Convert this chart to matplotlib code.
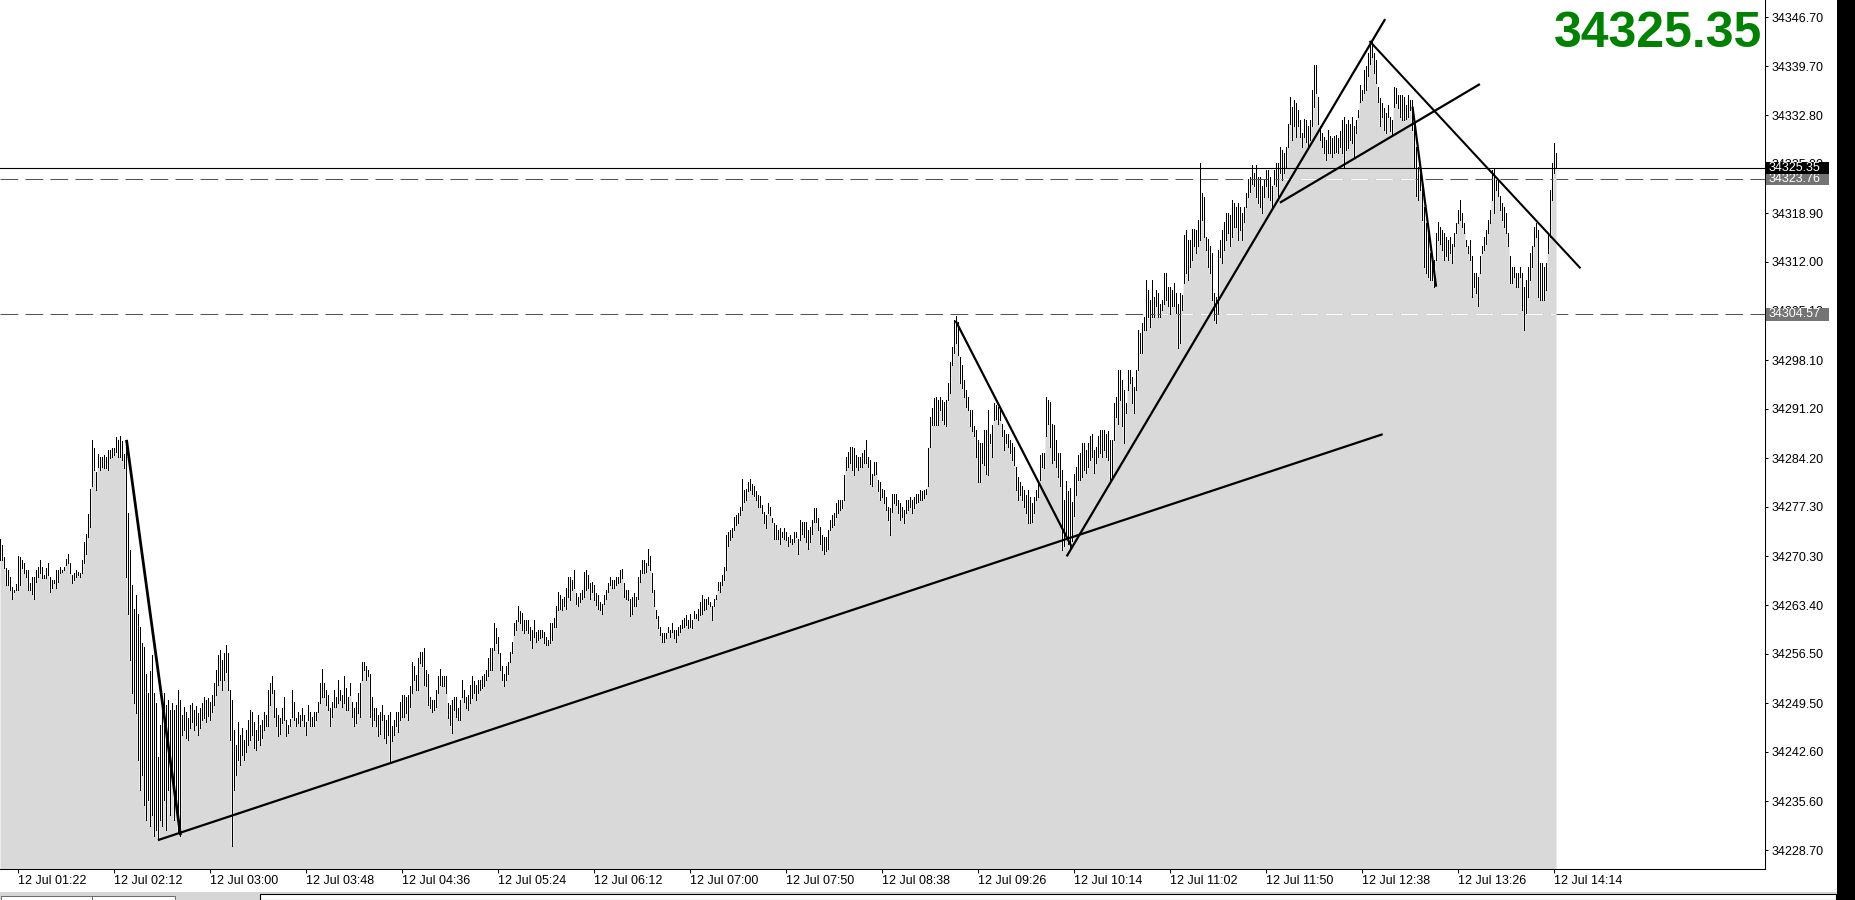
import numpy as np
import matplotlib
matplotlib.use("Agg")
import matplotlib.pyplot as plt
import matplotlib.transforms as mtransforms
from matplotlib.patches import Rectangle

plt.rcParams['font.family'] = ['Liberation Sans', 'DejaVu Sans']

# ---------------- data (one-minute bars, visible high / fill level) ----------------
high_a = [34272.8, 34271.9, 34270.2, 34268.6, 34268.4, 34267.4, 34266.0, 34265.6, 34266.4, 34270.3,
          34270.2, 34269.8, 34269.3, 34268.4, 34268.4, 34266.5, 34267.4, 34267.4, 34268.4, 34268.8,
          34269.8, 34268.8, 34267.6, 34268.6, 34269.3, 34267.4, 34266.9, 34266.9, 34268.4, 34268.4,
          34268.8, 34268.4, 34268.8, 34269.9, 34270.7, 34269.3, 34267.6, 34267.9, 34268.4, 34268.1,
          34267.9, 34269.8, 34272.4, 34273.5, 34276.3, 34279.9, 34286.8, 34285.7, 34282.3, 34284.8,
          34284.4, 34284.4, 34284.6, 34284.4, 34285.4, 34285.4, 34285.7, 34285.7, 34287.2, 34286.8,
          34287.3, 34286.7, 34284.8]
low_a = [34269.8, 34269.8, 34268.6, 34266.2, 34266.2, 34265.5, 34264.3, 34265.3, 34265.5, 34265.6,
         34266.2, 34268.6, 34267.9, 34267.4, 34265.5, 34265.5, 34265.0, 34264.3, 34266.7, 34267.4,
         34267.9, 34267.2, 34267.2, 34267.2, 34267.6, 34265.3, 34265.8, 34266.5, 34265.8, 34266.7,
         34267.9, 34268.1, 34268.4, 34269.1, 34269.3, 34267.9, 34266.5, 34266.9, 34267.4, 34267.6,
         34267.4, 34267.9, 34269.3, 34270.7, 34273.1, 34274.5, 34280.2, 34282.5, 34279.7, 34283.0,
         34282.5, 34283.0, 34282.8, 34282.8, 34282.5, 34284.3, 34284.4, 34284.6, 34285.1, 34284.4,
         34284.4, 34283.9, 34282.8]

high_b = [34286.8, 34276.4, 34271.2, 34266.2, 34262.9, 34264.8, 34262.2, 34260.3, 34258.0, 34257.4,
          34253.7, 34250.9, 34254.0, 34256.3, 34250.9, 34249.5, 34241.9, 34246.4, 34250.0, 34250.9,
          34249.2, 34250.0, 34248.5, 34249.5, 34248.5, 34249.2, 34251.4, 34250.0]
low_b = [34267.4, 34262.2, 34255.6, 34250.9, 34249.5, 34248.1, 34241.4, 34237.2, 34239.3, 34235.1,
         34233.0, 34235.8, 34232.1, 34233.7, 34230.7, 34231.5, 34230.1, 34233.0, 34232.1, 34235.8,
         34231.5, 34237.2, 34233.7, 34238.6, 34233.0, 34235.8, 34231.1, 34230.7]

high_c = [34247.8, 34249.0, 34248.3, 34247.4, 34249.2, 34249.5, 34248.5, 34249.1, 34248.1, 34248.8,
          34249.5, 34250.4, 34250.0, 34250.2, 34249.7, 34250.7, 34252.4, 34254.2, 34256.3, 34257.0,
          34255.6, 34256.6, 34257.7, 34256.6, 34251.4, 34250.0, 34245.7, 34243.6, 34246.8, 34245.0,
          34246.0, 34244.3, 34245.7, 34247.1, 34248.5, 34248.3, 34246.8, 34245.7, 34247.8, 34246.4,
          34247.1, 34248.3]
low_c = [34245.0, 34245.7, 34244.6, 34244.3, 34246.0, 34246.8, 34245.7, 34246.4, 34245.0, 34246.0,
         34247.1, 34247.4, 34246.8, 34247.7, 34247.1, 34248.3, 34249.2, 34250.7, 34252.1, 34252.8,
         34251.4, 34252.8, 34253.9, 34251.4, 34244.3, 34229.3, 34237.2, 34239.3, 34241.4, 34240.7,
         34242.2, 34241.4, 34242.6, 34243.6, 34244.3, 34245.0, 34243.2, 34242.9, 34244.3, 34243.6,
         34244.6, 34245.7]

high_d = [34247.8, 34251.4, 34252.3, 34253.4, 34251.4, 34248.8, 34247.8, 34247.4, 34248.8, 34250.4,
          34247.1, 34246.4, 34247.2, 34251.4, 34249.7, 34247.4, 34248.3, 34247.8, 34248.8, 34247.8,
          34246.9, 34249.3, 34248.3, 34247.6, 34248.3, 34248.3, 34249.7, 34252.3, 34254.3, 34252.3,
          34251.4, 34250.7, 34248.8, 34249.7, 34251.4, 34250.4, 34252.8, 34251.4, 34250.7, 34253.3,
          34251.6, 34250.4, 34252.3, 34249.7, 34248.8, 34249.7, 34250.9, 34252.3, 34255.4, 34255.4,
          34254.7, 34254.2, 34253.7, 34250.4, 34248.8, 34248.8, 34247.8, 34248.3, 34249.3, 34247.8,
          34247.1, 34247.8, 34248.3, 34246.2, 34247.1, 34248.3, 34248.3, 34249.7, 34250.7, 34250.7,
          34250.4, 34250.7, 34251.9, 34255.4, 34254.7, 34253.5, 34255.9, 34256.8, 34256.8, 34257.3,
          34254.2, 34253.7, 34250.4, 34250.0, 34250.0, 34251.4, 34253.3, 34254.3, 34253.4, 34253.3,
          34253.3, 34249.5, 34249.3, 34250.0, 34250.4, 34250.4, 34248.8, 34250.0, 34252.8, 34251.4,
          34250.4, 34250.7, 34252.1, 34253.3, 34252.6, 34252.1, 34252.8, 34252.8, 34253.3, 34253.7,
          34254.2, 34255.9, 34257.3, 34257.3, 34260.8, 34260.1, 34258.9, 34256.6, 34254.7, 34253.7,
          34254.7, 34255.4, 34256.8, 34258.2, 34260.8, 34261.3, 34263.2, 34262.5, 34262.3, 34261.3,
          34261.3, 34261.3, 34260.3, 34259.9, 34261.3]
low_d = [34246.2, 34246.2, 34249.3, 34250.9, 34247.6, 34246.2, 34244.8, 34245.2, 34246.7, 34247.1,
         34244.9, 34245.3, 34246.2, 34247.6, 34247.1, 34246.2, 34246.7, 34246.2, 34247.1, 34246.2,
         34245.0, 34247.1, 34246.2, 34246.2, 34246.2, 34247.1, 34248.3, 34249.5, 34250.4, 34250.4,
         34249.3, 34248.6, 34246.2, 34247.6, 34249.0, 34249.0, 34249.5, 34250.0, 34249.0, 34249.5,
         34248.6, 34248.6, 34250.7, 34247.6, 34246.2, 34246.7, 34248.1, 34247.6, 34252.8, 34254.2,
         34252.8, 34253.3, 34247.6, 34246.2, 34247.1, 34246.2, 34244.9, 34245.2, 34247.1, 34244.6,
         34243.8, 34245.0, 34241.0, 34244.2, 34245.0, 34246.2, 34245.4, 34247.1, 34247.6, 34247.6,
         34248.1, 34247.1, 34249.0, 34250.9, 34252.8, 34251.4, 34251.4, 34255.2, 34254.7, 34252.1,
         34251.9, 34249.3, 34248.8, 34248.3, 34248.6, 34249.0, 34250.9, 34252.1, 34251.9, 34251.9,
         34250.9, 34247.4, 34246.4, 34245.3, 34248.6, 34247.6, 34247.1, 34247.1, 34250.4, 34249.7,
         34248.8, 34248.6, 34249.5, 34250.2, 34250.9, 34250.0, 34250.9, 34251.4, 34251.6, 34251.9,
         34252.8, 34253.3, 34254.2, 34254.2, 34257.1, 34258.0, 34256.6, 34254.2, 34252.8, 34251.9,
         34252.8, 34253.7, 34255.4, 34256.6, 34259.2, 34259.9, 34261.1, 34260.8, 34259.9, 34259.4,
         34259.9, 34259.4, 34258.5, 34257.3, 34258.9]

high_e = [34259.6, 34259.9, 34259.9, 34259.9, 34259.6, 34258.9, 34258.4, 34260.8, 34260.8, 34261.5,
          34263.2, 34265.3, 34264.8, 34264.3, 34264.6, 34265.8, 34267.4, 34267.4, 34266.9, 34268.4,
          34265.1, 34264.6, 34265.1, 34265.5, 34268.1, 34268.4, 34267.6, 34266.5, 34266.7, 34266.2,
          34265.1, 34264.8, 34263.9, 34263.6, 34264.8, 34265.5, 34266.5, 34267.4, 34266.9, 34266.9,
          34267.4, 34267.4, 34268.4, 34268.5, 34266.5, 34265.5, 34265.5, 34264.3, 34264.6, 34265.1,
          34264.6, 34267.4, 34268.4, 34269.8, 34269.8, 34269.3, 34271.3, 34270.3, 34267.9, 34265.5,
          34262.7, 34261.8, 34260.3, 34259.4, 34259.4, 34259.4, 34260.3, 34259.9, 34260.8, 34259.9,
          34259.9, 34260.3, 34260.6, 34261.3, 34261.5, 34262.0, 34261.3, 34262.2, 34261.3, 34262.5,
          34262.2, 34262.9, 34263.9, 34264.8, 34264.3, 34264.3, 34264.6, 34263.9, 34263.2, 34264.3,
          34264.8, 34266.7, 34266.7, 34267.6, 34268.8, 34273.3, 34273.8, 34274.0, 34274.3, 34275.9,
          34276.2, 34276.4, 34277.3, 34281.3, 34279.7, 34279.9, 34280.9, 34281.3, 34280.6, 34280.2,
          34279.5, 34279.0, 34278.8, 34277.6, 34276.6, 34276.2, 34277.8, 34277.3, 34275.7, 34275.0,
          34274.7, 34274.0, 34274.3, 34273.8, 34274.3, 34273.8, 34273.1, 34273.3, 34272.8, 34273.8,
          34273.8, 34272.8]
low_e = [34258.2, 34258.4, 34258.7, 34258.9, 34258.0, 34257.7, 34257.7, 34258.0, 34258.4, 34260.3,
         34260.3, 34262.7, 34262.9, 34262.7, 34263.2, 34262.9, 34264.6, 34264.1, 34265.5, 34265.8,
         34263.6, 34263.2, 34263.9, 34264.3, 34264.6, 34265.5, 34265.8, 34264.3, 34265.3, 34264.1,
         34263.4, 34262.9, 34262.7, 34262.2, 34263.6, 34264.3, 34265.3, 34266.2, 34265.8, 34265.8,
         34266.2, 34266.5, 34266.7, 34267.2, 34264.6, 34264.3, 34264.1, 34261.8, 34262.2, 34263.2,
         34263.2, 34264.3, 34266.7, 34267.9, 34267.9, 34268.1, 34269.1, 34268.4, 34265.3, 34263.2,
         34261.5, 34260.1, 34259.2, 34258.2, 34258.2, 34258.7, 34259.6, 34258.9, 34259.6, 34258.7,
         34258.2, 34259.2, 34259.6, 34260.1, 34260.3, 34260.6, 34260.1, 34260.3, 34260.1, 34261.5,
         34261.5, 34261.3, 34262.0, 34262.2, 34262.7, 34262.9, 34263.6, 34263.2, 34261.3, 34263.2,
         34264.3, 34265.5, 34265.3, 34266.2, 34266.9, 34268.4, 34271.7, 34272.6, 34273.1, 34274.0,
         34274.7, 34275.0, 34276.2, 34276.9, 34278.0, 34278.3, 34279.5, 34279.7, 34279.2, 34278.8,
         34278.3, 34277.3, 34277.3, 34276.4, 34275.0, 34274.3, 34276.4, 34276.2, 34275.2, 34272.8,
         34272.8, 34272.8, 34272.1, 34273.1, 34272.8, 34272.6, 34271.7, 34272.4, 34272.1, 34272.4,
         34273.1, 34270.7]

high_f = [34275.4, 34275.2, 34275.2, 34275.2, 34274.0, 34274.5, 34275.4, 34277.1, 34277.2, 34275.7,
          34274.5, 34273.3, 34273.1, 34273.1, 34274.0, 34275.4, 34276.1, 34276.4, 34277.8, 34278.3,
          34278.3, 34278.3, 34281.8, 34284.4, 34285.1, 34285.8, 34285.8, 34285.6, 34284.7, 34284.4,
          34284.4, 34284.9, 34285.4, 34286.8, 34284.4, 34284.0, 34282.0, 34283.7, 34283.7, 34281.1,
          34280.9, 34279.9, 34279.7, 34278.7, 34277.3, 34277.1, 34279.2, 34279.2, 34279.2, 34278.3,
          34277.8, 34277.3, 34276.9, 34278.3, 34278.3, 34278.7, 34278.3, 34278.7, 34279.2, 34279.2,
          34279.7, 34279.5, 34279.7, 34279.9, 34285.6, 34290.1, 34291.3, 34292.7, 34292.9, 34292.4,
          34292.9, 34292.4, 34292.2, 34292.4, 34294.8, 34297.9, 34300.0, 34303.8, 34304.3, 34303.5,
          34298.6, 34297.4, 34295.3, 34293.9, 34292.9, 34291.0, 34291.0, 34288.7, 34288.2, 34286.8,
          34286.3, 34286.3, 34288.2, 34288.2, 34291.0, 34287.7, 34288.9, 34292.0, 34291.7, 34291.5,
          34291.0, 34289.1, 34288.2, 34287.7, 34287.7, 34286.8, 34286.3, 34285.8, 34283.0, 34281.6,
          34280.9, 34280.2, 34279.7, 34279.0, 34279.7, 34278.7, 34277.8, 34278.7, 34279.7, 34280.9,
          34284.7, 34284.9, 34284.9, 34292.9, 34292.4, 34292.2, 34289.1, 34288.9, 34286.8, 34284.9,
          34284.9, 34282.5, 34278.3]
low_f = [34272.6, 34273.5, 34273.1, 34272.4, 34271.4, 34272.4, 34273.5, 34275.2, 34275.2, 34274.0,
         34272.1, 34271.2, 34270.7, 34271.0, 34271.4, 34274.0, 34274.5, 34274.7, 34275.9, 34276.4,
         34276.9, 34277.1, 34278.3, 34282.5, 34283.0, 34283.5, 34282.5, 34281.8, 34283.0, 34282.5,
         34283.0, 34283.0, 34283.5, 34283.5, 34283.0, 34280.6, 34280.2, 34281.8, 34282.0, 34279.5,
         34278.3, 34278.7, 34277.8, 34276.9, 34275.4, 34273.3, 34276.6, 34277.8, 34277.6, 34276.4,
         34275.4, 34275.9, 34275.0, 34276.4, 34276.9, 34277.3, 34276.4, 34277.1, 34277.8, 34278.0,
         34278.3, 34278.3, 34278.5, 34279.2, 34280.2, 34285.8, 34288.9, 34288.9, 34288.9, 34288.9,
         34291.0, 34289.6, 34289.1, 34288.7, 34292.4, 34293.4, 34297.4, 34299.1, 34300.5, 34298.8,
         34294.8, 34294.1, 34292.9, 34291.5, 34291.0, 34288.7, 34288.0, 34287.3, 34284.4, 34280.9,
         34280.9, 34283.5, 34283.2, 34282.0, 34281.8, 34286.3, 34284.4, 34289.6, 34289.8, 34289.1,
         34289.6, 34287.3, 34285.4, 34286.3, 34285.8, 34284.9, 34284.0, 34283.2, 34279.7, 34278.3,
         34279.0, 34278.3, 34277.3, 34276.4, 34275.0, 34275.0, 34275.2, 34276.4, 34278.3, 34278.7,
         34281.1, 34283.0, 34282.8, 34287.3, 34289.1, 34285.8, 34283.5, 34284.0, 34283.0, 34281.6,
         34280.2, 34271.2, 34271.7]

high_g = [34281.0, 34279.5, 34280.0, 34278.0, 34282.0, 34283.0]
low_g = [34273.0, 34272.0, 34271.5, 34272.5, 34276.0, 34279.0]

high_h = [34284.7, 34284.9, 34286.3, 34286.3, 34285.4, 34286.3, 34287.3, 34287.7, 34285.4, 34285.8,
          34287.3, 34288.2, 34288.2, 34288.2, 34287.7, 34288.0, 34286.8, 34286.8, 34292.0, 34292.9,
          34296.7, 34296.7, 34295.3, 34293.9, 34292.0, 34296.7, 34296.7, 34295.7, 34294.3, 34296.7,
          34302.4, 34301.9, 34303.3, 34304.2, 34309.4, 34308.0, 34306.6, 34309.4, 34307.1, 34308.0,
          34307.6, 34306.1, 34306.6, 34310.4, 34310.4, 34308.5, 34308.5, 34308.0, 34309.0, 34307.6,
          34306.1, 34307.6, 34307.3, 34315.8, 34316.5, 34315.1, 34315.1, 34316.7, 34316.7, 34316.5,
          34317.9, 34326.0, 34321.7, 34321.2, 34315.6, 34315.3, 34314.2, 34313.2, 34307.6, 34307.1,
          34313.7, 34315.1, 34316.5, 34317.7, 34318.9, 34318.9, 34318.6, 34320.8, 34320.3, 34319.8,
          34320.3, 34319.8, 34318.9, 34319.8, 34321.7, 34323.8, 34324.1, 34325.7, 34324.6, 34325.7,
          34324.1, 34324.1, 34322.7, 34323.6, 34325.0, 34325.0, 34324.1, 34322.7, 34325.0, 34326.0,
          34326.0, 34328.3, 34327.9, 34327.4, 34328.3, 34331.6, 34335.4, 34334.0, 34334.9, 34334.5,
          34333.5, 34332.1, 34330.2, 34332.3, 34332.1, 34331.2, 34332.1, 34336.4, 34339.9, 34339.9,
          34335.4, 34331.2, 34330.2, 34329.7, 34329.3, 34330.7]
low_h = [34281.1, 34281.1, 34281.6, 34282.5, 34282.1, 34283.0, 34283.9, 34284.4, 34282.1, 34283.5,
         34284.4, 34284.9, 34284.4, 34285.4, 34284.4, 34283.9, 34281.1, 34281.6, 34286.8, 34290.1,
         34289.1, 34292.4, 34288.7, 34286.3, 34290.6, 34293.9, 34294.8, 34292.0, 34290.6, 34293.9,
         34296.7, 34299.1, 34299.1, 34302.4, 34302.4, 34304.2, 34302.8, 34304.2, 34304.2, 34305.7,
         34304.2, 34304.2, 34305.2, 34306.1, 34306.6, 34305.7, 34304.7, 34305.7, 34305.7, 34304.7,
         34299.8, 34300.5, 34305.2, 34309.0, 34310.4, 34309.4, 34311.3, 34312.3, 34314.2, 34313.2,
         34314.2, 34315.1, 34317.9, 34315.6, 34313.7, 34311.3, 34310.4, 34306.6, 34303.8, 34303.3,
         34304.7, 34312.7, 34311.8, 34313.7, 34315.1, 34316.1, 34314.2, 34315.6, 34317.0, 34317.0,
         34315.1, 34316.5, 34315.1, 34317.7, 34319.8, 34321.2, 34321.9, 34323.1, 34322.7, 34321.2,
         34320.3, 34319.8, 34318.9, 34321.2, 34322.7, 34321.2, 34320.8, 34319.8, 34323.1, 34322.7,
         34320.8, 34324.6, 34323.6, 34324.6, 34325.5, 34328.3, 34331.6, 34329.3, 34331.2, 34329.7,
         34331.2, 34329.7, 34328.3, 34329.7, 34329.0, 34328.3, 34329.3, 34331.2, 34334.0, 34335.9,
         34331.6, 34329.3, 34328.3, 34327.4, 34326.4, 34327.4]

high_i = [34329.8, 34329.5, 34329.8, 34330.0, 34329.5, 34330.5, 34332.1, 34332.6, 34331.6, 34332.1,
          34331.6, 34332.6, 34331.2, 34332.1, 34333.5, 34337.1, 34336.4, 34339.2, 34339.7, 34341.6,
          34343.0, 34343.2, 34341.6, 34340.6, 34336.8, 34335.2, 34334.5, 34333.8, 34333.1, 34334.2,
          34332.6, 34332.1, 34336.8, 34336.6, 34335.7, 34335.7, 34335.7, 34335.4, 34334.2, 34335.7,
          34334.9, 34334.9, 34332.1, 34328.3, 34325.5, 34324.6, 34322.7, 34319.8, 34317.5, 34316.1,
          34313.2, 34312.8, 34312.3, 34316.1, 34317.7, 34317.0, 34316.5, 34316.1, 34315.6, 34315.1,
          34315.6, 34314.6, 34316.1, 34317.5, 34319.4, 34320.8, 34318.9, 34317.5, 34315.1, 34314.2,
          34315.1, 34312.8, 34310.4, 34310.4, 34309.9, 34312.8, 34314.2, 34315.6, 34316.5, 34318.0,
          34319.4, 34325.0, 34325.3, 34323.6, 34323.6, 34321.3, 34320.3, 34319.8, 34318.9, 34316.1,
          34312.8, 34311.3, 34311.3, 34310.4, 34310.4, 34311.3, 34310.4, 34308.5, 34309.4, 34311.3,
          34313.2, 34314.2, 34317.0, 34317.5, 34316.5, 34311.8, 34311.8, 34311.3, 34311.8, 34316.1,
          34322.2, 34326.0, 34328.8, 34327.4]
low_i = [34327.4, 34326.9, 34327.4, 34327.6, 34327.4, 34328.3, 34327.4, 34325.5, 34327.9, 34328.1,
         34329.3, 34328.8, 34326.9, 34330.2, 34332.6, 34334.7, 34334.9, 34335.9, 34336.4, 34338.3,
         34340.1, 34341.1, 34338.7, 34337.3, 34334.7, 34331.2, 34332.6, 34330.7, 34330.2, 34332.6,
         34330.5, 34330.0, 34334.0, 34334.5, 34333.8, 34332.6, 34332.1, 34332.1, 34332.3, 34332.6,
         34333.5, 34330.7, 34325.5, 34321.3, 34320.8, 34322.2, 34318.0, 34311.3, 34310.4, 34309.9,
         34309.4, 34309.4, 34308.5, 34312.3, 34315.1, 34314.6, 34313.7, 34312.3, 34312.8, 34312.3,
         34313.2, 34311.8, 34314.2, 34316.1, 34317.5, 34318.0, 34317.0, 34316.1, 34314.2, 34313.2,
         34312.3, 34307.1, 34308.5, 34307.6, 34305.7, 34310.4, 34313.2, 34313.7, 34314.6, 34316.1,
         34317.5, 34320.8, 34318.9, 34322.2, 34321.3, 34319.4, 34318.0, 34317.0, 34316.1, 34314.2,
         34309.0, 34309.0, 34309.9, 34308.5, 34308.5, 34309.9, 34305.2, 34302.3, 34304.7, 34307.1,
         34309.4, 34311.3, 34314.2, 34315.6, 34307.1, 34306.6, 34306.6, 34306.6, 34308.0, 34313.2,
         34315.6, 34320.8, 34324.6, 34325.35]

time_labels = ['12 Jul 01:22', '12 Jul 02:12', '12 Jul 03:00', '12 Jul 03:48', '12 Jul 04:36',
               '12 Jul 05:24', '12 Jul 06:12', '12 Jul 07:00', '12 Jul 07:50', '12 Jul 08:38',
               '12 Jul 09:26', '12 Jul 10:14', '12 Jul 11:02', '12 Jul 11:50', '12 Jul 12:38',
               '12 Jul 13:26', '12 Jul 14:14']
time_tick_bars = [9, 57, 105, 153, 201, 249, 297, 345, 393, 441, 489, 537, 585, 633, 681, 729, 777]

price_ticks = [34346.70, 34339.70, 34332.80, 34325.90, 34318.90, 34312.00, 34305.10, 34298.10,
               34291.20, 34284.20, 34277.30, 34270.30, 34263.40, 34256.50, 34249.50, 34242.60,
               34235.60, 34228.70]
bid_price = 34325.35
level_prices = [34323.76, 34304.57]

trend_lines = [((63.0, 34286.8), (90.0, 34230.8)),
               ((78.7, 34230.1), (691.1, 34287.6)),
               ((477.5, 34303.7), (535.5, 34271.7)),
               ((533.1, 34270.3), (692.3, 34346.4)),
               ((639.7, 34320.4), (739.7, 34337.2)),
               ((684.5, 34343.3), (790.0, 34311.1)),
               ((706.0, 34334.0), (717.8, 34308.5))]
line_widths = [2.0, 1.6, 1.6, 1.6, 1.6, 1.5, 1.6]

high = np.array(high_a + high_b + high_c + high_d + high_e + high_f + high_g + high_h + high_i)
low = np.array(low_a + low_b + low_c + low_d + low_e + low_f + low_g + low_h + low_i)
bars = np.arange(len(high))

# ---------------- figure ----------------
W, H = 1856, 900
fig = plt.figure(figsize=(W / 100, H / 100), dpi=100)
fig.patch.set_facecolor('white')
ax = fig.add_axes([0, 31 / H, 1765 / W, 869 / H])
ymin, ymax = 34226.01, 34349.11
ax.set_xlim(-0.25, 882.25)
ax.set_ylim(ymin, ymax)

fill = ax.fill_between(bars, low, ymin - 20, step='mid', facecolor='#d9d9d9',
                       edgecolor='none', linewidth=0, zorder=1)
ax.vlines(bars, low, high, colors='black', linewidth=0.45, antialiased=False, zorder=3)

fill_path = fill.get_paths()[0]
for p in level_prices:
    ax.axhline(p, color='#555555', lw=0.75, ls=(0, (17, 7)), zorder=4)
    wl = ax.axhline(p, color='white', lw=0.75, ls=(0, (17, 7)), zorder=4.5)
    wl.set_clip_path(fill_path, ax.transData)
ax.axhline(bid_price, color='black', lw=0.8, zorder=4)

for ((x0, y0), (x1, y1)), lw in zip(trend_lines, line_widths):
    ax.plot([x0, x1], [y0, y1], color='black', lw=lw, solid_capstyle='butt', zorder=6)

# axes styling
for s in ['top', 'left']:
    ax.spines[s].set_visible(False)
for s in ['right', 'bottom']:
    ax.spines[s].set_linewidth(0.75)
    ax.spines[s].set_color('black')
ax.yaxis.tick_right()
ax.set_yticks(price_ticks)
ax.set_yticklabels([f'{v:.2f}' for v in price_ticks])
ax.tick_params(axis='y', direction='out', length=2.5, width=0.75, pad=2,
               labelsize=9, colors='black', left=False, right=True)
ax.set_xticks(time_tick_bars)
ax.set_xticklabels(time_labels)
for t in ax.get_xticklabels():
    t.set_ha('left')
ax.tick_params(axis='x', direction='out', length=3, width=0.75, pad=1, labelsize=9, colors='black')

# price labels on the axis
trans = mtransforms.blended_transform_factory(mtransforms.IdentityTransform(), ax.transData)
px = (ymax - ymin) / 869.0
for p in level_prices:
    ax.add_patch(Rectangle((1766, p - 6.5 * px), 63, 13 * px, transform=trans,
                           facecolor='#747474', edgecolor='none', clip_on=False, zorder=7))
    ax.text(1769, p, f'{p:.2f}', transform=trans, color='white', fontsize=9,
            va='center', ha='left', clip_on=False, zorder=8)
ax.add_patch(Rectangle((1766, bid_price - 6 * px), 63, 12 * px, transform=trans,
                       facecolor='black', edgecolor='none', clip_on=False, zorder=9))
ax.text(1769, bid_price, f'{bid_price:.2f}', transform=trans, color='white', fontsize=9,
        va='center', ha='left', clip_on=False, zorder=10)

# big price readout
fig.text(1762 / W, 1 - 47 / H, f'{bid_price:.2f}', ha='right', va='baseline',
         fontsize=36, fontweight='bold', color='#008000')

# window chrome: right black band and bottom tab strip
fig.add_artist(Rectangle((1837 / W, 0), 19 / W, 1, transform=fig.transFigure,
                         facecolor='black', edgecolor='none'))
fig.add_artist(Rectangle((0, 0), 1837 / W, 8 / H, transform=fig.transFigure,
                         facecolor='#d6d6d6', edgecolor='none'))
fig.add_artist(Rectangle((260 / W, 0), 1576 / W, 6 / H, transform=fig.transFigure,
                         facecolor='white', edgecolor='black', linewidth=0.8))
fig.add_artist(Rectangle((1 / W, 0), 91 / W, 4 / H, transform=fig.transFigure,
                         facecolor='white', edgecolor='#555555', linewidth=0.6))
fig.add_artist(Rectangle((92 / W, 0), 83 / W, 4 / H, transform=fig.transFigure,
                         facecolor='white', edgecolor='#555555', linewidth=0.6))

fig.savefig('out.png', dpi=100)
